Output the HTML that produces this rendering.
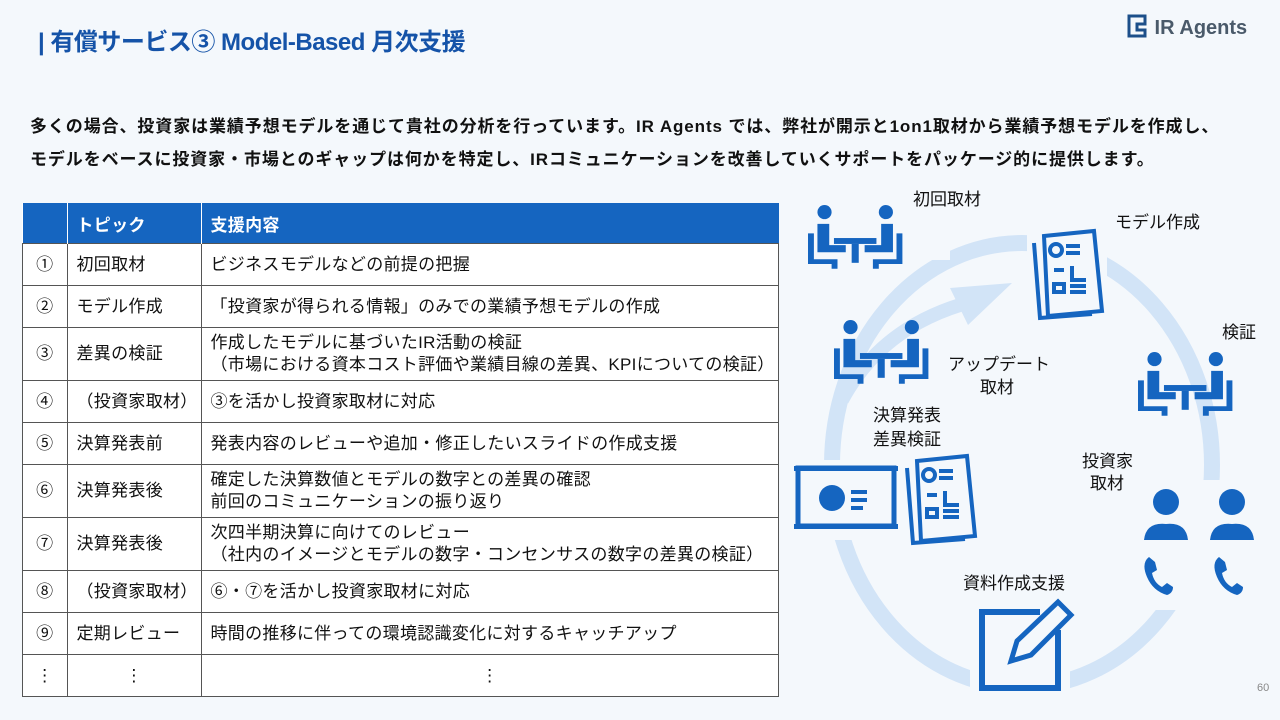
<!DOCTYPE html>
<html><head><meta charset="utf-8"><style>
body{margin:0;width:1280px;height:720px;background:#f4f8fc;position:relative;overflow:hidden;font-family:"Liberation Sans","Noto Sans CJK JP",sans-serif;color:#111}
.t{position:absolute;white-space:nowrap}
table{position:absolute;left:22px;top:203px;border-collapse:collapse;width:757px;font-size:17px;letter-spacing:0.3px;background:#fff}
td{border:1px solid #555;padding:0 0 0 9px;line-height:22px}
th{background:#1565c0;color:#fff;text-align:left;padding:0 0 0 9px;height:40px;font-weight:bold;border-left:1px solid #fff}
td:first-child{text-align:center;padding:0}
</style></head><body>
<div class="t" style="left:38px;top:22px;font-size:24px;font-weight:bold;color:#1553a8;letter-spacing:-0.5px">| 有償サービス③ Model-Based 月次支援</div>
<div class="t" style="left:1127px;top:14px;font-size:20px;font-weight:bold;color:#4a5a6a">
<svg width="22" height="24" style="vertical-align:-4px"><path d="M2 2h16v8h-8v6h8v6h-16z" fill="none" stroke="#1c4f8a" stroke-width="3"/></svg> IR Agents</div>
<div class="t" style="left:30px;top:112px;font-size:17px;font-weight:bold;letter-spacing:0.9px">多くの場合、投資家は業績予想モデルを通じて貴社の分析を行っています。IR Agents では、弊社が開示と1on1取材から業績予想モデルを作成し、</div>
<div class="t" style="left:30px;top:145px;font-size:17px;font-weight:bold;letter-spacing:0.9px">モデルをベースに投資家・市場とのギャップは何かを特定し、IRコミュニケーションを改善していくサポートをパッケージ的に提供します。</div>
<table>
<tr><th style="width:35px;border-left:none"></th><th style="width:124px">トピック</th><th>支援内容</th></tr>
<tr style="height:42px"><td>①</td><td>初回取材</td><td>ビジネスモデルなどの前提の把握</td></tr>
<tr style="height:42px"><td>②</td><td>モデル作成</td><td>「投資家が得られる情報」のみでの業績予想モデルの作成</td></tr>
<tr style="height:53px"><td>③</td><td>差異の検証</td><td>作成したモデルに基づいたIR活動の検証<br>（市場における資本コスト評価や業績目線の差異、KPIについての検証）</td></tr>
<tr style="height:42px"><td>④</td><td>（投資家取材）</td><td>③を活かし投資家取材に対応</td></tr>
<tr style="height:42px"><td>⑤</td><td>決算発表前</td><td>発表内容のレビューや追加・修正したいスライドの作成支援</td></tr>
<tr style="height:53px"><td>⑥</td><td>決算発表後</td><td>確定した決算数値とモデルの数字との差異の確認<br>前回のコミュニケーションの振り返り</td></tr>
<tr style="height:53px"><td>⑦</td><td>決算発表後</td><td>次四半期決算に向けてのレビュー<br>（社内のイメージとモデルの数字・コンセンサスの数字の差異の検証）</td></tr>
<tr style="height:42px"><td>⑧</td><td>（投資家取材）</td><td>⑥・⑦を活かし投資家取材に対応</td></tr>
<tr style="height:42px"><td>⑨</td><td>定期レビュー</td><td>時間の推移に伴っての環境認識変化に対するキャッチアップ</td></tr>
<tr style="height:42px"><td>⋮</td><td style="text-align:center;padding:0">⋮</td><td style="text-align:center;padding:0">⋮</td></tr>
</table>
<svg class="t" style="left:0;top:0" width="1280" height="720">
<defs>
<g id="meet" fill="#1565c0">
<circle cx="14" cy="6" r="6"/><circle cx="66" cy="6" r="6"/>
<path d="M8 16h10v18h14v6h-24z"/><path d="M72 16h-10v18h-14v6h24z"/>
<path d="M0 24h5v22h20v8h-5v-4h-20z"/><path d="M80 24h-5v22h-20v8h5v-4h20z"/>
<rect x="22" y="28" width="36" height="5"/><rect x="37" y="33" width="6" height="16"/>
</g>
<g id="doc" fill="none" stroke="#1565c0" stroke-width="4">
<path d="M2 15l6 75 52 -4"/><path d="M12 8l50 -5 8 80 -54 5z" fill="#f4f8fc"/>
<circle cx="24" cy="22" r="6"/><path d="M34 18h14M34 25h14M22 42h10M40 38v14h14M22 56h10v8h-10zM38 58h16M38 64h16"/>
</g>
<g id="person" fill="#1565c0"><circle cx="22" cy="14" r="13"/><path d="M0 52q2-18 22-16 20-2 22 16z"/></g>
<g id="phone"><path d="M6 2q-8 6-2 20t20 18q6-2 6-8l-6-4-5 4q-8-4-10-14l5-3-2-8z" fill="#1565c0"/></g>
</defs>
<ellipse cx="1022" cy="465" rx="190" ry="222" fill="none" stroke="#d2e4f7" stroke-width="16"/>
<rect x="930" y="200" width="20" height="60" fill="#f4f8fc"/>
<path d="M842 400 Q880 330 960 305" fill="none" stroke="#d2e4f7" stroke-width="14"/>
<path d="M950 288 L1012 283 L968 325z" fill="#d2e4f7"/>
<g transform="translate(808,205) scale(1.18)"><use href="#meet"/></g>
<g transform="translate(834,320) scale(1.18)"><use href="#meet"/></g>
<g transform="translate(1138,352) scale(1.18)"><use href="#meet"/></g>
<g transform="translate(1032,228)"><rect x="-5" y="-5" width="80" height="100" fill="#f4f8fc"/><use href="#doc"/></g>
<g transform="translate(905,453)"><rect x="-5" y="-5" width="75" height="100" fill="#f4f8fc"/><use href="#doc"/></g>
<rect x="790" y="460" width="100" height="80" fill="#f4f8fc"/>
<rect x="798" y="468" width="96" height="58" fill="none" stroke="#1565c0" stroke-width="5"/>
<rect x="794" y="466" width="104" height="5" fill="#1565c0"/><rect x="794" y="524" width="104" height="5" fill="#1565c0"/>
<circle cx="832" cy="498" r="13" fill="#1565c0"/>
<path d="M851 492h16M851 500h16M851 508h12" stroke="#1565c0" stroke-width="4"/>
<rect x="1135" y="480" width="120" height="130" fill="#f4f8fc"/>
<use href="#person" x="1144" y="488"/><use href="#person" x="1210" y="488"/>
<use href="#phone" x="1143" y="555"/><use href="#phone" x="1213" y="555"/>
<rect x="970" y="600" width="100" height="95" fill="#f4f8fc"/>
<path d="M1040 612h-58v76h76v-58" fill="none" stroke="#1565c0" stroke-width="6"/>
<path d="M1058 602l13 13-40 40-20 6 6-20z" fill="none" stroke="#1565c0" stroke-width="5"/>
<g font-size="17" fill="#111" font-family="Liberation Sans,Noto Sans CJK JP,sans-serif">
<text x="913" y="205">初回取材</text>
<text x="1115" y="228">モデル作成</text>
<text x="1222" y="338">検証</text>
<text x="948" y="370">アップデート</text>
<text x="980" y="393">取材</text>
<text x="873" y="421">決算発表</text>
<text x="873" y="445">差異検証</text>
<text x="1082" y="467">投資家</text>
<text x="1090" y="489">取材</text>
<text x="963" y="589">資料作成支援</text>
<text x="1257" y="691" font-size="11" fill="#888">60</text>
</g>
</svg>
</body></html>
